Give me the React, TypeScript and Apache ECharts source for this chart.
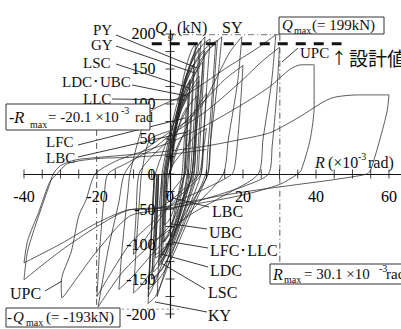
import React, { useEffect, useRef } from "react";
import * as echarts from "echarts";

// ---- axis ticks / labels ----
const xTickValues = [-40, -35, -30, -25, -20, -15, -10, -5, 0, 5, 10, 15, 20, 25, 30, 35, 40, 45, 50, 55, 60];
const xLabelValues = [-40, -20, 0, 20, 40, 60];
const yTickValues = [-200, -175, -150, -125, -100, -75, -50, -25, 0, 25, 50, 75, 100, 125, 150, 175, 200];
const yLabelValues = [-200, -150, -100, -50, 0, 50, 100, 150, 200];

// ---- reference lines ----
const designLine = [[-5, 186], [47, 186]];
const qMaxLine = [[0, 199], [30.1, 199]];
const rMaxLine = [[30.1, 199], [30.1, -128]];
const rMinLine = [[-20.1, 63], [-20.1, -193]];
const qMinLine = [[-31, -193], [3, -193]];

// ---- hysteresis curves (R x10^-3 rad, Q kN) ----
const UPC = [
  [0, 0], [2, 35], [5, 72], [8, 100], [10, 115],
  [9.3, 60], [8.5, 0], [5, -20], [0, -45], [-5, -80], [-10, -115],
  [-9.3, -60], [-8.5, 0], [-5, 25], [0, 50], [5, 80], [10, 108], [15, 135], [20, 155],
  [19.2, 90], [18, 20], [17, 0], [10, -20], [0, -45], [-5, -70], [-11, -100], [-16, -140], [-20, -175],
  [-19.3, -110], [-18, -30], [-17, 0], [-12, 15], [-5, 35], [0, 55], [10, 90], [20, 135], [25, 160], [30, 181],
  [29.2, 110], [28, 40], [27, 0], [20, -18], [10, -35], [0, -50], [-11, -60], [-20, -110], [-25, -145], [-29.6, -177],
  [-29.8, -154], [-27, -110], [-25, -60], [-23, -37], [-20.5, 0],
  [-15, 18], [-10, 28], [0, 45], [10, 70], [20, 100], [27.4, 125], [33, 150], [36, 156], [39.5, 156],
  [39.5, 96], [38.4, 49], [36, 6], [35, 0], [30, -15], [20, -30], [10, -40], [0, -48], [-11, -51], [-20, -75], [-30, -110], [-40, -151],
  [-39, -110], [-36, -60], [-33, -15], [-32, 0],
  [-30, 12], [-26, 20], [-19, 24], [-10, 28], [0, 33], [10, 40], [20, 50], [27.4, 59], [35, 80], [44, 108], [52, 113], [60, 113],
  [59.5, 90], [57.5, 49], [55, 6], [54, 0], [45, -8], [35, -15], [25, -22], [15, -30], [5, -40], [-5, -50], [-11, -51], [-20, -70], [-30, -100], [-40, -127],
  [-39, -95], [-36, -55], [-33, -12], [-31, 0], [-28, 15], [-20, 22], [-10, 24], [0, 28], [10, 35],
];

const SY = [
  [0, 0], [1.5, 60], [3.5, 115], [5.5, 155], [7.5, 182], [9.6, 196],
  [8.6, 130], [7, 50], [6, 0], [3, -45], [0, -95], [-3, -140], [-5, -165], [-6, -175],
  [-5.2, -100], [-4.3, -20], [-4, 0], [-1, 45], [2, 85], [5, 120], [8, 155], [11, 180], [14.2, 196],
  [13, 130], [11.2, 50], [10.4, 0], [6, -40], [1, -85], [-4, -130], [-8, -160], [-10, -170],
  [-9.2, -100], [-8.2, -25], [-7.8, 0], [-5.5, 49], [0, 62], [4.6, 75], [9, 100], [13, 140], [16.5, 175], [19.7, 196],
  [18.5, 130], [16, 50], [14.6, 0], [8, -40], [2, -75], [-5, -115], [-10, -145], [-14, -165],
  [-13, -100], [-11.5, -25], [-11, 0], [-8, 60], [-5.5, 89], [5, 115], [15, 150], [24, 180], [29, 199],
  [27.8, 130], [25.5, 50], [24.2, 0], [15, -30], [5, -60], [-5, -100], [-13, -140], [-19.7, -190],
  [-17, -110], [-14, -40], [-12.5, 0], [-8, 30], [0, 60],
];

const PY = [
  [0, 0], [1.5, 60], [3, 110], [5, 150], [7, 178], [8.5, 190],
  [7.5, 120], [6.6, 40], [6, 0], [4, -40], [1.5, -80], [-1, -110], [-3, -130],
  [-2.5, -70], [-2, -10], [-1.8, 0], [0, 50], [2.5, 100], [5, 140], [8, 170], [11, 185], [13, 191],
  [12, 120], [11, 40], [10.3, 0], [7, -40], [3, -90], [0, -125], [-3, -150], [-6, -165],
  [-5.3, -100], [-4.6, -30], [-4.3, 0],
];

const GY = [
  [0, 0], [1, 45], [2.5, 95], [4.5, 140], [6.8, 170], [8, 180],
  [7, 110], [6, 30], [5.5, 0], [3.5, -40], [1, -80], [-1, -105], [-2.5, -120],
  [-2, -60], [-1.6, -10], [-1.5, 0], [0.5, 50], [3, 100], [7, 150], [10, 175], [12.5, 186],
  [11.5, 110], [10.3, 30], [9.8, 0], [6, -45], [2, -95], [-1, -125], [-3.5, -145], [-5, -150],
  [-4.4, -90], [-3.8, -20], [-3.6, 0],
];

const LSC = [
  [0, 0], [1, 50], [2.5, 100], [4, 130], [5.5, 150], [6.5, 157],
  [5.8, 90], [5, 20], [4.7, 0], [3, -50], [1, -90], [-1, -112], [-2.5, -126],
  [-2, -70], [-1.6, -15], [-1.5, 0], [0.5, 60], [3, 110], [6, 150], [8.5, 170], [9.5, 176],
  [8.8, 100], [8, 25], [7.6, 0], [4, -55], [1, -100], [-2, -135], [-5, -150],
  [-4.4, -90], [-3.8, -25], [-3.6, 0],
];

const LDC = [
  [0, 0], [1, 45], [2.5, 90], [4, 118], [5.5, 135],
  [4.8, 70], [4.2, 10], [4, 0], [2.5, -45], [0.5, -85], [-1, -105], [-2, -116],
  [-1.6, -60], [-1.2, -10], [-1.1, 0], [1, 60], [4, 110], [7, 145], [9, 160],
  [8.3, 90], [7.5, 20], [7.2, 0], [4, -50], [1, -95], [-2, -125], [-4.5, -140],
  [-4, -80], [-3.5, -15], [-3.3, 0],
];

const UBC = [
  [0, 0], [1.2, 55], [2.8, 100], [4.5, 125], [5.5, 132],
  [4.7, 60], [4, 0], [2, -35], [0.5, -58], [-0.5, -68], [-1.5, -73],
  [-1.1, -30], [-0.8, 0], [0.5, 40], [3, 90], [6, 125], [8, 140],
  [7.2, 70], [6.4, 0], [3, -40], [0.5, -70], [-2, -85], [-4, -95],
  [-3.5, -40], [-3.1, 0],
];

const LLC = [
  [0, 0], [1, 45], [2.5, 85], [4, 106], [5, 115],
  [4.3, 50], [3.8, 0], [2, -45], [0.5, -75], [-0.7, -90], [-1.5, -97],
  [-1.1, -45], [-0.8, 0], [0.8, 50], [3, 90], [6, 120], [8, 133],
  [7.3, 65], [6.6, 0], [4, -50], [1, -90], [-2, -112], [-4, -120],
  [-3.5, -60], [-3.1, 0],
];

const LFC = [
  [0, 0], [1, 35], [2.2, 65], [3.5, 85], [4.5, 95],
  [3.8, 40], [3.3, 0], [1.8, -40], [0.3, -75], [-1, -90], [-2, -97],
  [-1.6, -45], [-1.2, 0], [0.5, 40], [3, 75], [5.5, 100], [7.5, 112],
  [6.8, 55], [6, 0], [3.5, -45], [1, -85], [-2, -108], [-4, -115],
  [-3.5, -55], [-3.1, 0],
];

const LBC = [
  [0, 0], [1, 25], [2.5, 45], [4, 57], [5.5, 63],
  [4.8, 25], [4.2, 0], [2.5, -12], [1, -22], [0, -29], [-1, -34],
  [-0.6, -12], [-0.3, 0], [1, 15], [4, 35], [7, 55], [10, 65],
  [9, 30], [8, 0], [5, -15], [2, -30], [-1, -42], [-3, -50],
  [-2.5, -20], [-2.1, 0],
];

const KY = [
  [0, 0], [1.5, 70], [3, 120], [4.5, 155], [6, 178], [7, 186],
  [6.2, 110], [5.4, 30], [5, 0], [3, -50], [0.5, -100], [-1.5, -140], [-3.5, -175],
  [-3, -110], [-2.4, -30], [-2.2, 0], [0.5, 70], [3, 120], [6, 160], [9, 185], [11, 193],
  [10, 120], [9, 40], [8.5, 0], [5, -50], [1.5, -100], [-1.5, -145], [-4, -175], [-6, -185],
  [-5.3, -110], [-4.6, -30], [-4.3, 0],
];

const curves: [string, number[][]][] = [
  ["UPC", UPC], ["SY", SY], ["PY", PY], ["GY", GY], ["LSC", LSC], ["LDC", LDC],
  ["UBC", UBC], ["LLC", LLC], ["LFC", LFC], ["LBC", LBC], ["KY", KY],
];

const SERIF = '"Liberation Serif", "DejaVu Serif", serif';
const CJK = '"Noto Sans CJK JP", "Noto Sans CJK SC", sans-serif';
const INK = "#111";

function txt(text: string, x: number, y: number, size: number, italic = false, family = SERIF, align = "left") {
  return {
    type: "text",
    x,
    y,
    z: 100,
    style: {
      text,
      fill: INK,
      font: `${italic ? "italic " : ""}${size}px ${family}`,
      align,
      verticalAlign: "middle",
      textAlign: align,
      textVerticalAlign: "middle",
    },
  };
}

function seg(x1: number, y1: number, x2: number, y2: number) {
  return {
    type: "line",
    z: 90,
    shape: { x1, y1, x2, y2 },
    style: { stroke: "#222", lineWidth: 0.9 },
  };
}

function box(x: number, y: number, w: number, h: number) {
  return {
    type: "rect",
    z: 95,
    shape: { x, y, width: w, height: h },
    style: { fill: "#fff", stroke: "#333", lineWidth: 1 },
  };
}

export default function App() {
  const ref = useRef<HTMLDivElement>(null);

  useEffect(() => {
    document.body.style.margin = "0";
    if (!ref.current) return;
    const chart = echarts.init(ref.current, null, { renderer: "svg" });

    const axisLineStyle = { color: "#111", width: 1.2 };
    const labelFont = {
      fontFamily: SERIF,
      fontSize: 16,
      color: "#000",
      opacity: 1,
      textBorderWidth: 0,
      fontWeight: "normal",
    };

    const refSeries = (data: number[][], width: number, type: any, color: string) => ({
      type: "line",
      data,
      symbol: "none",
      silent: true,
      z: 3,
      lineStyle: { color, width, type },
    });

    const option: any = {
      animation: false,
      backgroundColor: "#fff",
      grid: {
        left: 24,
        top: 30,
        width: 377,
        height: 288,
        containLabel: false,
        outerBoundsMode: "none",
      },
      xAxis: {
        type: "value",
        min: -40,
        max: 63.3,
        axisLine: { onZero: true, lineStyle: axisLineStyle },
        axisTick: { show: false },
        axisLabel: { show: false },
        splitLine: { show: false },
      },
      yAxis: {
        type: "value",
        min: -205.7,
        max: 205.7,
        axisLine: { onZero: true, lineStyle: axisLineStyle },
        axisTick: { show: false },
        axisLabel: { show: false },
        splitLine: { show: false },
      },
      series: [
        ...curves.map(([name, data]) => ({
          type: "line",
          name,
          data,
          symbol: "none",
          smooth: 0.25,
          silent: true,
          z: 2,
          lineStyle: { color: "#262626", width: 0.75 },
        })),
        refSeries(designLine, 3, [10, 8], "#111"),
        refSeries(qMaxLine, 1, [6, 3, 1, 3], "#777"),
        refSeries(rMaxLine, 1, [6, 3, 1, 3], "#555"),
        refSeries(rMinLine, 1, [6, 3, 1, 3], "#555"),
        refSeries(qMinLine, 1, [2, 3], "#888"),
        // crossing tick marks on the axes
        {
          type: "scatter",
          silent: true,
          z: 5,
          symbol: "rect",
          symbolSize: [1, 9],
          itemStyle: { color: "#111" },
          data: xTickValues.map((v) => [v, 0]),
        },
        {
          type: "scatter",
          silent: true,
          z: 5,
          symbol: "rect",
          symbolSize: [9, 1],
          itemStyle: { color: "#111" },
          data: yTickValues.map((v) => [0, v]),
        },
        // tick labels
        {
          type: "scatter",
          silent: true,
          z: 20,
          symbol: "circle",
          symbolSize: 1,
          itemStyle: { color: "rgba(0,0,0,0)" },
          data: xLabelValues.map((v) => [v, 0]),
          label: {
            show: true,
            position: "bottom",
            distance: 14,
            formatter: (p: any) => String(p.value[0]),
            ...labelFont,
          },
        },
        {
          type: "scatter",
          silent: true,
          z: 20,
          symbol: "circle",
          symbolSize: 1,
          itemStyle: { color: "rgba(0,0,0,0)" },
          data: yLabelValues.map((v) => [0, v]),
          label: {
            show: true,
            position: "left",
            distance: 14,
            formatter: (p: any) => String(p.value[1]),
            ...labelFont,
          },
        },
      ],
      graphic: [
        // y-axis name
        txt("Q", 155, 27, 17, true),
        txt("g", 168, 35, 11, true),
        txt("(kN)", 177, 27, 16),
        txt("SY", 222, 27, 16),
        // Qmax box
        box(279, 17, 105, 17),
        txt("Q", 282, 25, 15, true),
        txt("max", 294, 30, 10),
        txt("(= 199kN)", 312, 25, 15),
        // UPC + design value
        txt("UPC", 300, 53, 15),
        seg(298, 48, 282, 62),
        txt("↑", 331, 57, 16, false, CJK),
        txt("設計値", 349, 57, 19, false, CJK),
        // x-axis name
        txt("R", 315, 162, 16, true),
        txt("(×10", 328, 162, 16),
        txt("-3", 358, 156, 10),
        txt("rad)", 368, 162, 16),
        // left labels
        txt("PY", 93, 30, 15),
        seg(116, 35, 197, 68),
        txt("GY", 91, 45, 15),
        seg(116, 46, 195, 73),
        txt("LSC", 83, 63, 15),
        seg(116, 64, 189, 88),
        txt("LDC･UBC", 62, 82, 15),
        seg(132, 85, 187, 96),
        txt("LLC", 83, 99, 15),
        seg(112, 99, 185, 100),
        txt("LFC", 46, 142, 15),
        seg(78, 145, 185, 118),
        txt("LBC", 46, 158, 15),
        seg(78, 157, 187, 132),
        // -Rmax box
        box(6, 104, 144, 26),
        txt("-", 9, 117, 16),
        txt("R", 14, 117, 17, true),
        txt("max", 30, 124, 10),
        txt("= -20.1 ×10", 48, 117, 15),
        txt("-3", 121, 110, 10),
        txt("rad", 135, 117, 14),
        // right-bottom labels
        txt("LBC", 212, 211, 16),
        seg(209, 207, 173, 198),
        txt("UBC", 209, 232, 16),
        seg(207, 229, 172, 224),
        txt("LFC･LLC", 210, 250, 16),
        seg(208, 248, 172, 242),
        txt("LDC", 210, 270, 16),
        seg(208, 267, 161, 254),
        txt("LSC", 208, 292, 16),
        seg(205, 289, 161, 263),
        txt("KY", 208, 315, 16),
        seg(207, 312, 155, 302),
        // Rmax box
        box(270, 264, 140, 20),
        txt("R", 273, 274, 16, true),
        txt("max", 284, 279, 10),
        txt("= 30.1 ×10", 304, 274, 15),
        txt("-3", 379, 268, 10),
        txt("rad", 386, 274, 15),
        // bottom-left UPC
        txt("UPC", 10, 293, 16),
        seg(45, 291, 62, 281),
        // -Qmax box
        box(6, 308, 114, 19),
        txt("-", 7, 317, 15),
        txt("Q", 13, 317, 15, true),
        txt("max", 26, 322, 10),
        txt("(= -193kN)", 46, 317, 15),
      ],
    };

    chart.setOption(option);
    return () => chart.dispose();
  }, []);

  return (
    <div
      ref={ref}
      style={{ position: "absolute", left: 0, top: 0, width: 401, height: 329, background: "#fff" }}
    />
  );
}
